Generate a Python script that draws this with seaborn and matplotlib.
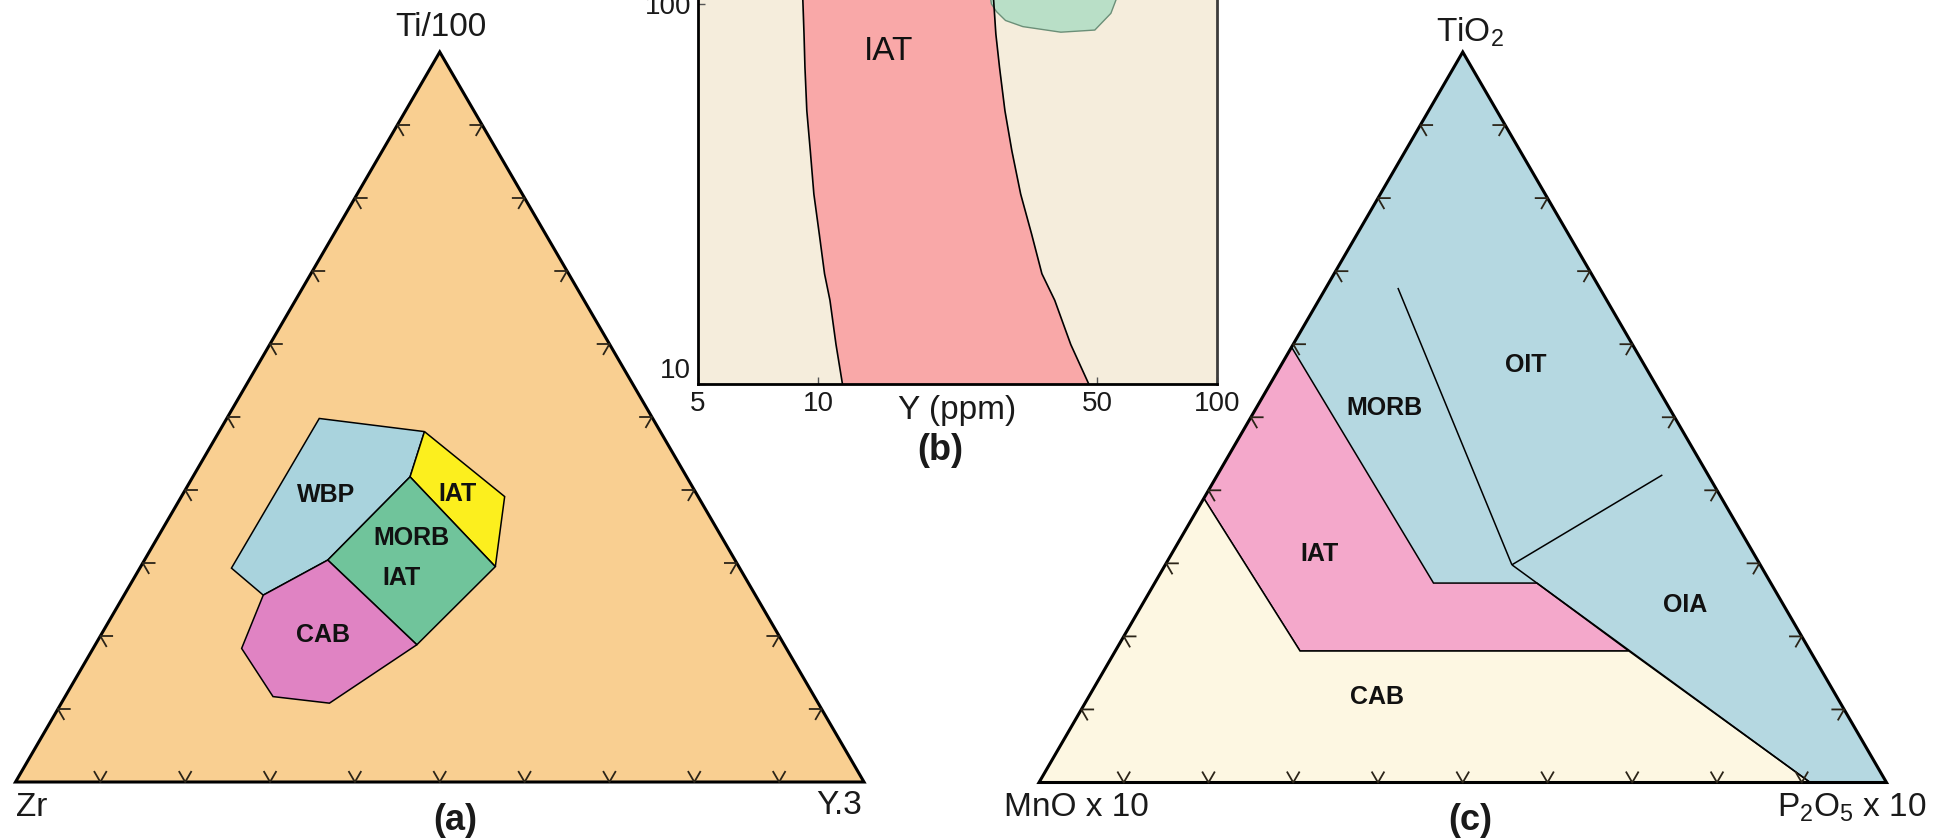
import numpy as np
import matplotlib
matplotlib.use("Agg")
import matplotlib.pyplot as plt
from matplotlib.patches import Polygon
from matplotlib.collections import LineCollection
from matplotlib.ticker import NullLocator
import seaborn as sns

sns.set_theme(style="white")
plt.rcParams["font.family"] = ["Liberation Sans", "DejaVu Sans"]
plt.rcParams["mathtext.default"] = "regular"

# ---------------- (a) Ti/100 - Zr - Y.3 : fields as (Ti/100, Y.3) fractions ----------------
a_wbp_ti = [0.498, 0.480, 0.418, 0.304, 0.256, 0.293]
a_wbp_y = [0.109, 0.242, 0.256, 0.216, 0.164, 0.108]
a_iat_ti = [0.480, 0.391, 0.295, 0.418]
a_iat_y = [0.242, 0.381, 0.418, 0.256]
a_morb_ti = [0.418, 0.295, 0.188, 0.304]
a_morb_y = [0.256, 0.418, 0.379, 0.216]
a_cab_ti = [0.256, 0.304, 0.188, 0.108, 0.117, 0.183]
a_cab_y = [0.164, 0.216, 0.379, 0.316, 0.245, 0.175]
a_labels = ["WBP", "IAT", "MORB", "IAT", "CAB"]
a_label_ti = [0.393, 0.395, 0.334, 0.279, 0.201]
a_label_y = [0.170, 0.324, 0.300, 0.315, 0.262]

# ---------------- (b) Cr (ppm) vs Y (ppm), log-log ----------------
b_cr = [105, 83.4, 68.1, 52.4, 41.1, 31.6, 24.8, 19.5, 16.6, 12.7, 10]
b_iat_left = [9.15, 9.22, 9.27, 9.37, 9.56, 9.76, 10.07, 10.38, 10.71, 11.09, 11.51]
b_iat_right = [27.5, 27.9, 28.5, 29.4, 30.6, 32.2, 34.3, 36.4, 39.2, 43.0, 47.7]
b_morb_y = [26.9, 27.2, 28.0, 29.5, 32.6, 40.6, 49.4, 54.2, 55.8, 56.5]
b_morb_cr = [108, 100, 95.5, 90.5, 87.2, 84.3, 85.4, 94.5, 102.4, 108]
b_xticks = [5, 10, 50, 100]
b_yticks = [10, 100]

# ---------------- (c) TiO2 - MnO x10 - P2O5 x10 : (TiO2, P2O5) fractions ----------------
c_iat_ti = [0.596, 0.273, 0.273, 0.180, 0.180, 0.389]
c_iat_p = [0.000, 0.329, 0.451, 0.606, 0.218, 0.000]
c_cab_ti = [0.389, 0.180, 0.180, 0.000, 0.000]
c_cab_p = [0.000, 0.218, 0.606, 0.910, 0.000]
c_morb_oit_ti = [0.677, 0.298]
c_morb_oit_p = [0.085, 0.409]
c_oit_oia_ti = [0.298, 0.421]
c_oit_oia_p = [0.409, 0.525]
c_oia_low_ti = [0.298, 0.000]
c_oia_low_p = [0.409, 0.910]
c_labels = ["OIT", "MORB", "IAT", "OIA", "CAB"]
c_label_ti = [0.5715, 0.512, 0.313, 0.243, 0.117]
c_label_p = [0.288, 0.152, 0.175, 0.641, 0.340]

W, H, DPI = 1946, 839, 100
SQ = np.sqrt(3) / 2

fig = plt.figure(figsize=(W / DPI, H / DPI), dpi=DPI)
fig.patch.set_facecolor("white")


def px_rect(x0, y0, x1, y1):
    """Axes rectangle from a pixel box (top-left origin)."""
    return [x0 / W, 1 - y1 / H, (x1 - x0) / W, (y1 - y0) / H]


def tern(top, right):
    top = np.asarray(top, float)
    right = np.asarray(right, float)
    return right + top / 2, top * SQ


def ternary_axes(rect, bg):
    ax = fig.add_axes(rect)
    ax.set_xlim(0, 1)
    ax.set_ylim(0, SQ)
    ax.axis("off")
    ax.add_patch(Polygon([(0, 0), (1, 0), (0.5, SQ)], closed=True,
                         facecolor=bg, edgecolor="none", zorder=0))
    return ax


def draw_frame(ax):
    ax.add_patch(Polygon([(0, 0), (1, 0), (0.5, SQ)], closed=True, fill=False,
                         edgecolor="black", lw=2.2, joinstyle="miter",
                         zorder=5, clip_on=False))
    L = 0.015
    segs = []
    for k in range(1, 10):
        f = k / 10
        p = np.array([f, 0.0])
        segs.append([p + L * np.array([0.5, SQ]), p, p + L * np.array([-0.5, SQ])])
        p = np.array([f / 2, f * SQ])
        segs.append([p + L * np.array([1.0, 0]), p, p + L * np.array([0.5, -SQ])])
        p = np.array([1 - f / 2, f * SQ])
        segs.append([p + L * np.array([-1.0, 0]), p, p + L * np.array([-0.5, -SQ])])
    ax.add_collection(LineCollection(segs, colors="#2b2418", linewidths=1.3,
                                     zorder=6, clip_on=False))


def field(ax, top, right, color, lw=1.1):
    x, y = tern(top, right)
    ax.add_patch(Polygon(np.column_stack([x, y]), closed=True, facecolor=color,
                         edgecolor="black", lw=lw, joinstyle="miter", zorder=2))


# ---------------- panel (a) ----------------
ax_a = ternary_axes(px_rect(15.5, 52, 864, 782), "#F9CF91")
field(ax_a, a_wbp_ti, a_wbp_y, "#A9D3DD")
field(ax_a, a_iat_ti, a_iat_y, "#FCEF1E")
field(ax_a, a_morb_ti, a_morb_y, "#70C49B")
field(ax_a, a_cab_ti, a_cab_y, "#E083C3")
draw_frame(ax_a)
lx, ly = tern(a_label_ti, a_label_y)
for t, x, y in zip(a_labels, lx, ly):
    ax_a.text(x, y, t, ha="center", va="center", fontsize=18,
              fontweight="bold", color="#111111", zorder=7)

# ---------------- panel (b) ----------------
ax_b = fig.add_axes(px_rect(698, 0, 1217, 384))
ax_b.set_xscale("log")
ax_b.set_yscale("log")
ax_b.set_xlim(5, 100)
ax_b.set_ylim(10, 10 ** (1 + 384 / 380))
ax_b.set_facecolor("#F5EDDC")
ax_b.fill_betweenx(b_cr, b_iat_left, b_iat_right, color="#F9A8A8", lw=0, zorder=1)
ax_b.fill(b_morb_y, b_morb_cr, facecolor="#B9DFC7", edgecolor="#6b8f78",
          lw=1.0, zorder=2)
for xs in (b_iat_left, b_iat_right):
    sns.lineplot(x=xs, y=b_cr, sort=False, estimator=None, color="black",
                 lw=1.2, ax=ax_b, zorder=3)
ax_b.text(15.06, 75.2, "IAT", ha="center", va="center", fontsize=24, color="#111111")
ax_b.xaxis.set_minor_locator(NullLocator())
ax_b.yaxis.set_minor_locator(NullLocator())
ax_b.set_xticks(b_xticks)
ax_b.set_xticklabels([str(v) for v in b_xticks])
ax_b.set_yticks(b_yticks)
ax_b.set_yticklabels([str(v) for v in b_yticks])
ax_b.tick_params(axis="both", which="major", direction="in", length=5, width=1.0,
                 color="#555555", labelsize=20, labelcolor="#1a1a1a", pad=5,
                 bottom=True, left=True, top=False, right=False)
ax_b.get_yticklabels()[0].set_verticalalignment("bottom")
ax_b.set_xlabel("")
ax_b.set_ylabel("")
ax_b.spines["top"].set_visible(False)
for s in ("left", "bottom"):
    ax_b.spines[s].set_color("black")
    ax_b.spines[s].set_linewidth(2.0)
ax_b.spines["right"].set_color("#3c3c3c")
ax_b.spines["right"].set_linewidth(2.0)
ax_b.grid(False)

# ---------------- panel (c) ----------------
ax_c = ternary_axes(px_rect(1039, 52, 1886.5, 782.5), "#B5D8E1")
field(ax_c, c_iat_ti, c_iat_p, "#F4A8CB")
field(ax_c, c_cab_ti, c_cab_p, "#FDF7E2")
for tt, pp in ((c_morb_oit_ti, c_morb_oit_p), (c_oit_oia_ti, c_oit_oia_p),
               (c_oia_low_ti, c_oia_low_p)):
    x, y = tern(tt, pp)
    ax_c.plot(x, y, color="black", lw=1.1, zorder=3, solid_capstyle="butt")
draw_frame(ax_c)
lx, ly = tern(c_label_ti, c_label_p)
for t, x, y in zip(c_labels, lx, ly):
    ax_c.text(x, y, t, ha="center", va="center", fontsize=18,
              fontweight="bold", color="#111111", zorder=7)

# ---------------- titles and vertex labels ----------------
def ftext(x, y, s, **kw):
    kw.setdefault("fontsize", 24)
    kw.setdefault("color", "#1a1a1a")
    fig.text(x / W, 1 - y / H, s, va="center", **kw)

ftext(441, 28, "Ti/100", ha="center")
ftext(16, 807, "Zr", ha="left")
ftext(862, 805, "Y.3", ha="right")
ftext(455, 820, "(a)", ha="center", fontweight="bold", fontsize=26)

ftext(957, 410, "Y (ppm)", ha="center", fontsize=24)
ftext(940, 450, "(b)", ha="center", fontweight="bold", fontsize=26)

ftext(1470, 32, "TiO$_2$", ha="center")
ftext(1076, 808, "MnO x 10", ha="center")
ftext(1852, 808, "P$_2$O$_5$ x 10", ha="center")
ftext(1470, 820, "(c)", ha="center", fontweight="bold", fontsize=26)

fig.savefig("out.png", dpi=DPI, facecolor="white")
